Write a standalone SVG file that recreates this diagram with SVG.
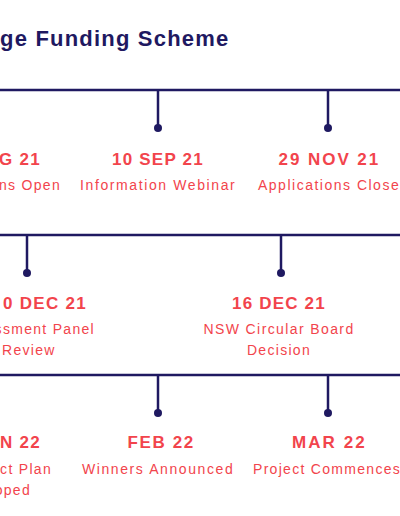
<svg xmlns="http://www.w3.org/2000/svg" width="400" height="516" viewBox="0 0 400 516">
<style>
.line{stroke:#1f1961;stroke-width:2.5;fill:none}
.dot{fill:#1f1961}
.title{font-family:"Liberation Sans",Arial,sans-serif;font-weight:bold;font-size:22px;fill:#1f1961;letter-spacing:1.2px}
.date{font-family:"Liberation Sans",Arial,sans-serif;font-weight:bold;font-size:17px;fill:#f2444c;letter-spacing:1.3px}
.lab{font-family:"Liberation Sans",Arial,sans-serif;font-size:14px;fill:#f2444c;letter-spacing:1.3px}
.c{text-anchor:middle}
.e{text-anchor:end}
</style>
<rect width="400" height="516" fill="#ffffff"/>
<text class="title" x="0" y="46">ge Funding Scheme</text>
<g id="connectors">
<line class="line" x1="0" y1="90" x2="400" y2="90"/>
<line class="line" x1="158" y1="90" x2="158" y2="128"/>
<line class="line" x1="328" y1="90" x2="328" y2="128"/>
<line class="line" x1="0" y1="235" x2="400" y2="235"/>
<line class="line" x1="27" y1="235" x2="27" y2="273"/>
<line class="line" x1="281" y1="235" x2="281" y2="273"/>
<line class="line" x1="0" y1="375" x2="400" y2="375"/>
<line class="line" x1="158" y1="375" x2="158" y2="413"/>
<line class="line" x1="328" y1="375" x2="328" y2="413"/>
</g>
<g id="n-aug">
<text class="date e" x="41" y="165">G 21</text>
<text class="lab e" x="61" y="190">ns Open</text>
</g>
<g id="n-sep">
<circle class="dot" cx="158" cy="128" r="4"/>
<text class="date c" x="158" y="165" textLength="92" lengthAdjust="spacing">10 SEP 21</text>
<text class="lab c" x="158" y="190" textLength="156" lengthAdjust="spacing">Information Webinar</text>
</g>
<g id="n-nov">
<circle class="dot" cx="328" cy="128" r="4"/>
<text class="date c" x="329" y="165" textLength="101" lengthAdjust="spacing">29 NOV 21</text>
<text class="lab" x="258" y="190" textLength="142" lengthAdjust="spacing">Applications Close</text>
</g>
<g id="n-dec10">
<circle class="dot" cx="27" cy="273" r="4"/>
<text class="date e" x="87" y="309">0 DEC 21</text>
<text class="lab e" x="95" y="334">ssment Panel</text>
<text class="lab" x="2" y="355">Review</text>
</g>
<g id="n-dec16">
<circle class="dot" cx="281" cy="273" r="4"/>
<text class="date c" x="279" y="309" textLength="94" lengthAdjust="spacing">16 DEC 21</text>
<text class="lab c" x="279" y="334" textLength="151" lengthAdjust="spacing">NSW Circular Board</text>
<text class="lab c" x="279" y="355">Decision</text>
</g>
<g id="n-jan">
<text class="date e" x="41" y="448">N 22</text>
<text class="lab e" x="52" y="474">ct Plan</text>
<text class="lab e" x="31" y="495">oped</text>
</g>
<g id="n-feb">
<circle class="dot" cx="158" cy="413" r="4"/>
<text class="date c" x="161" y="448" textLength="67" lengthAdjust="spacing">FEB 22</text>
<text class="lab c" x="158" y="474" textLength="152" lengthAdjust="spacing">Winners Announced</text>
</g>
<g id="n-mar">
<circle class="dot" cx="328" cy="413" r="4"/>
<text class="date c" x="329" y="448" textLength="74" lengthAdjust="spacing">MAR 22</text>
<text class="lab" x="253" y="474">Project Commences</text>
</g>
</svg>
